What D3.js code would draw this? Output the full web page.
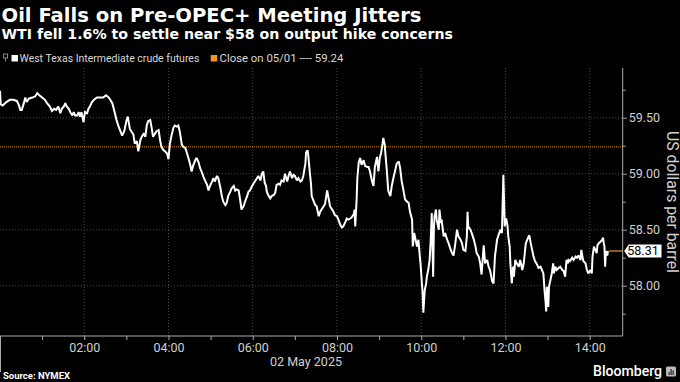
<!DOCTYPE html>
<html>
<head>
<meta charset="utf-8">
<script src="https://cdn.jsdelivr.net/npm/d3@7"></script>
<style>
html,body{margin:0;padding:0;background:#000;}
svg{display:block;}
</style>
</head>
<body>
<svg id="chart" width="680" height="382"></svg>
<script>
// ---- Data (minutes after 00:00 on 02 May 2025, WTI price) ----
const minutes = [0,1,4,9,14,19,24,27,29,31,34,36,38,41,46,50,53,56,60,64,67,71,74,77,80,83,86,88,91,93,95,98,100,103,105,107,110,112,114,116,119,121,124,126,128,131,134,138,143,147,151,155,157,160,162,164,166,169,171,174,177,180,182,185,190,192,195,197,200,202,205,207,209,211,214,216,218,221,223,226,228,230,233,235,238,240,242,245,247,249,252,254,256,259,261,264,266,268,271,273,275,278,280,283,285,287,290,292,295,297,299,302,304,306,309,311,314,316,318,321,323,325,328,330,333,335,337,340,342,344,347,349,352,354,356,359,361,363,366,368,371,373,375,377,379,380,382,385,387,390,392,394,397,399,401,404,406,409,411,413,416,418,420,423,425,428,430,432,435,436,438,439,441,443,444,447,449,451,454,456,458,461,463,466,469,470,473,475,477,480,482,485,487,489,492,494,496,499,501,504,505,506,508,509,511,513,515,518,520,523,525,527,530,532,534,537,539,541,543,545,546,548,549,551,553,556,558,561,563,565,568,570,572,575,577,580,582,584,587,588,590,592,594,596,598,599,600,601,602,603,605,607,608,610,612,614,615,617,618,619,621,622,625,626,628,629,632,634,637,639,641,644,646,648,651,653,656,658,660,663,665,666,667,670,672,675,677,679,682,684,686,689,691,694,696,698,701,703,705,708,710,713,715,717,719,720,721,723,724,726,727,729,731,732,734,736,739,741,744,746,747,749,751,753,754,756,758,760,762,765,767,770,772,774,776,777,778,779,781,782,784,786,788,789,791,793,796,798,801,803,805,807,809,810,812,815,817,820,822,824,827,828,830,831,834,836,838,841,843,844,846,848,850,851,853,855,858,859,860,861,862,863,865,866];
const prices = [59.74,59.62,59.61,59.64,59.66,59.66,59.65,59.61,59.57,59.57,59.63,59.68,59.64,59.67,59.68,59.69,59.72,59.70,59.68,59.66,59.63,59.60,59.56,59.58,59.57,59.60,59.54,59.58,59.60,59.63,59.60,59.58,59.55,59.52,59.55,59.52,59.52,59.55,59.51,59.55,59.46,59.55,59.54,59.58,59.60,59.64,59.66,59.68,59.68,59.68,59.70,59.68,59.66,59.63,59.58,59.53,59.48,59.42,59.39,59.34,59.38,59.47,59.51,59.40,59.35,59.27,59.29,59.20,59.30,59.33,59.36,59.33,59.43,59.47,59.48,59.41,59.33,59.36,59.38,59.39,59.30,59.24,59.21,59.20,59.18,59.13,59.27,59.36,59.41,59.43,59.42,59.43,59.38,59.26,59.24,59.23,59.19,59.15,59.08,59.02,59.07,59.12,59.14,59.10,59.05,59.02,58.97,58.94,58.90,58.85,58.89,58.93,58.96,58.93,58.98,58.96,58.87,58.80,58.75,58.72,58.74,58.80,58.84,58.87,58.89,58.85,58.86,58.85,58.77,58.68,58.71,58.75,58.80,58.84,58.85,58.89,58.91,58.93,58.96,58.98,58.94,59.00,59.02,58.92,58.89,58.84,58.81,58.78,58.80,58.81,58.83,58.90,58.91,58.90,58.94,58.93,59.00,58.93,58.98,59.02,58.96,58.99,58.98,58.94,58.96,58.93,58.94,58.98,59.09,59.19,59.21,59.17,59.03,58.91,58.80,58.75,58.72,58.71,58.62,58.66,58.68,58.71,58.73,58.85,58.75,58.71,58.68,58.66,58.63,58.62,58.59,58.54,58.52,58.53,58.57,58.60,58.59,58.60,58.61,58.64,58.68,58.53,58.77,58.96,59.10,59.14,59.08,59.12,59.07,59.06,59.06,59.02,58.93,58.89,59.06,59.15,59.02,59.14,59.19,59.27,59.32,59.26,59.18,59.03,58.85,58.80,58.89,58.98,59.03,59.09,59.11,59.05,58.94,58.84,58.77,58.75,58.74,58.66,58.59,58.35,58.47,58.41,58.35,58.41,58.26,58.20,58.11,58.02,57.93,57.76,57.96,58.02,58.08,58.14,58.23,58.47,58.65,58.08,58.50,58.62,58.68,58.59,58.50,58.68,58.56,58.59,58.44,58.47,58.41,58.38,58.34,58.29,58.27,58.35,58.50,58.44,58.41,58.38,58.32,58.31,58.44,58.66,58.53,58.50,58.47,58.41,58.36,58.29,58.26,58.20,58.10,58.36,58.20,58.23,58.17,58.14,58.04,58.02,58.26,58.41,58.45,58.50,58.47,58.99,58.53,58.59,58.60,58.53,58.44,58.35,58.20,58.02,58.17,58.08,58.23,58.20,58.17,58.23,58.14,58.20,58.26,58.38,58.41,58.44,58.45,58.38,58.32,58.26,58.22,58.19,58.16,58.17,58.14,58.11,57.93,57.87,57.77,57.99,57.81,57.99,58.05,58.11,58.20,58.11,58.17,58.14,58.16,58.17,58.14,58.13,58.08,58.23,58.20,58.23,58.22,58.25,58.23,58.26,58.25,58.27,58.23,58.32,58.25,58.22,58.20,58.14,58.11,58.14,58.11,58.26,58.35,58.32,58.29,58.36,58.38,58.39,58.41,58.43,58.38,58.35,58.17,58.31,58.27,58.31];
const previousClose = 59.24;
const lastPrice = 58.31;
const yTickValues = [58.00, 58.50, 59.00, 59.50];
const yMinorTickValues = [57.75, 58.25, 58.75, 59.25, 59.75];
const xLabelHours = [2, 4, 6, 8, 10, 12, 14];
const xTickHours = [0,1,2,3,4,5,6,7,8,9,10,11,12,13,14];
const dateLabel = "02 May 2025";
const titleText = "Oil Falls on Pre-OPEC+ Meeting Jitters";
const subtitleText = "WTI fell 1.6% to settle near $58 on output hike concerns";
const legendLabels = ["West Texas Intermediate crude futures", "Close on 05/01 ---- 59.24"];
const yAxisTitle = "US dollars per barrel";
const sourceText = "Source: NYMEX";

// ---- Setup ----
const svg = d3.select("#chart");
const W = 680, H = 382;
const plot = {left: 0, right: 622.7, top: 68, bottom: 336};
const day = new Date(2025, 4, 2, 0, 0);
const t = m => d3.timeMinute.offset(day, m);

const x = d3.scaleTime()
  .domain([t(0), t(887.4)])
  .range([plot.left, plot.right]);
const y = d3.scaleLinear()
  .domain([57.551, 59.944])
  .range([plot.bottom, plot.top]);

const data = minutes.map((m, i) => ({date: t(m), value: prices[i]}));

svg.append("rect").attr("width", W).attr("height", H).attr("fill", "#000");

function fitText(sel, target) {
  const w = sel.node().getComputedTextLength();
  const fs = parseFloat(sel.attr("font-size"));
  sel.attr("font-size", (fs * target / w).toFixed(2));
}

const boldFont = "'DejaVu Sans', Verdana, sans-serif";
const bodyFont = "Roboto, 'Noto Sans', sans-serif";

// ---- Titles ----
const title = svg.append("text").attr("x", 1.5).attr("y", 22)
  .attr("font-family", boldFont)
  .attr("font-weight", 700).attr("font-size", 18).attr("fill", "#fff")
  .text(titleText);
fitText(title, 420);
const sub = svg.append("text").attr("x", 1.5).attr("y", 38.5)
  .attr("font-family", boldFont)
  .attr("font-weight", 700).attr("font-size", 14).attr("fill", "#fff")
  .text(subtitleText);
fitText(sub, 452);

// ---- Legend ----
const lg = svg.append("g");
lg.append("rect").attr("x", 3.5).attr("y", 54).attr("width", 4).attr("height", 4)
  .attr("fill", "none").attr("stroke", "#888").attr("stroke-width", 1);
lg.append("line").attr("x1", 5.5).attr("x2", 5.5).attr("y1", 58).attr("y2", 61.5)
  .attr("stroke", "#888").attr("stroke-width", 1);
lg.append("rect").attr("x", 11.5).attr("y", 55).attr("width", 6.5).attr("height", 6.5).attr("fill", "#fff");
const l1 = lg.append("text").attr("x", 19.5).attr("y", 61.5)
  .attr("font-family", bodyFont).attr("font-size", 10.5)
  .attr("fill", "#d8d8d8").text(legendLabels[0]);
fitText(l1, 180);
lg.append("rect").attr("x", 210.7).attr("y", 55).attr("width", 6.5).attr("height", 6.5).attr("fill", "#f0961e");
const l2 = lg.append("text").attr("x", 219.5).attr("y", 61.5)
  .attr("font-family", bodyFont).attr("font-size", 10.5)
  .attr("fill", "#d8d8d8").text(legendLabels[1]);
fitText(l2, 124);

// ---- Gridlines ----
const grid = svg.append("g");
grid.selectAll("line.h").data(yTickValues).join("line")
  .attr("x1", plot.left).attr("x2", plot.right)
  .attr("y1", d => y(d)).attr("y2", d => y(d))
  .attr("stroke", "#4a4a4a").attr("stroke-width", 1).attr("stroke-dasharray", "1,2");
grid.selectAll("line.v").data(xLabelHours).join("line")
  .attr("x1", d => x(t(d * 60))).attr("x2", d => x(t(d * 60)))
  .attr("y1", plot.top).attr("y2", plot.bottom)
  .attr("stroke", "#4a4a4a").attr("stroke-width", 1).attr("stroke-dasharray", "1,2");

// ---- Previous close line ----
svg.append("line")
  .attr("x1", plot.left).attr("x2", plot.right)
  .attr("y1", y(previousClose)).attr("y2", y(previousClose))
  .attr("stroke", "#d88a22").attr("stroke-width", 1).attr("stroke-dasharray", "1,1");

// ---- Price line ----
const line = d3.line().x(d => x(d.date)).y(d => y(d.value));
svg.append("path").datum(data)
  .attr("d", line).attr("fill", "none")
  .attr("stroke", "#fff").attr("stroke-width", 2).attr("stroke-linejoin", "miter").attr("stroke-miterlimit", 2);

// last value connector
const last = data[data.length - 1];
svg.append("line")
  .attr("x1", x(last.date) + 1).attr("x2", plot.right)
  .attr("y1", y(lastPrice)).attr("y2", y(lastPrice))
  .attr("stroke", "#8a5a22").attr("stroke-width", 2);

// ---- Y axis (right) ----
const yAxis = svg.append("g").attr("transform", `translate(${plot.right},0)`)
  .call(d3.axisRight(y).tickValues(yTickValues).tickFormat(d3.format(".2f")).tickSize(4).tickPadding(2))
  .call(g => g.select(".domain").remove());
yAxis.selectAll(".tick line").attr("stroke", "#aaa");
yAxis.selectAll(".tick text").attr("fill", "#d0d0d0")
  .attr("font-family", bodyFont).attr("font-size", 12.5);
svg.append("g").attr("transform", `translate(${plot.right},0)`)
  .call(d3.axisRight(y).tickValues(yMinorTickValues).tickFormat("").tickSize(3))
  .call(g => g.select(".domain").remove())
  .selectAll(".tick line").attr("stroke", "#aaa");
svg.append("line").attr("x1", plot.right).attr("x2", plot.right)
  .attr("y1", plot.top).attr("y2", plot.bottom).attr("stroke", "#aaa").attr("stroke-width", 1);

// ---- X axis (bottom) ----
const xAxis = svg.append("g").attr("transform", `translate(0,${plot.bottom})`)
  .call(d3.axisBottom(x).tickValues(xTickHours.map(h => t(h * 60)))
    .tickFormat(d => xLabelHours.includes(d.getHours()) ? d3.timeFormat("%H:%M")(d) : "")
    .tickSize(4).tickPadding(3))
  .call(g => g.select(".domain").remove());
xAxis.selectAll(".tick line").attr("stroke", "#aaa");
xAxis.selectAll(".tick text").attr("fill", "#d0d0d0")
  .attr("font-family", bodyFont).attr("font-size", 12.5);
svg.append("line").attr("x1", plot.left).attr("x2", plot.right)
  .attr("y1", plot.bottom).attr("y2", plot.bottom).attr("stroke", "#aaa").attr("stroke-width", 1);
svg.append("line").attr("x1", x(t(0)) + 0.5).attr("x2", x(t(0)) + 0.5)
  .attr("y1", plot.bottom).attr("y2", 372).attr("stroke", "#aaa").attr("stroke-width", 1);
svg.append("text").attr("x", 306).attr("y", 366).attr("text-anchor", "middle")
  .attr("font-family", bodyFont).attr("font-size", 12.5)
  .attr("fill", "#d0d0d0").text(dateLabel);

// ---- Last price label ----
const ly = y(lastPrice);
svg.append("path")
  .attr("d", `M${plot.right + 1.5},${ly} L${plot.right + 6},${ly - 6.5} L661.5,${ly - 6.5} L661.5,${ly + 6.5} L${plot.right + 6},${ly + 6.5} Z`)
  .attr("fill", "#fff");
svg.append("text").attr("x", 643).attr("y", ly + 4.5).attr("text-anchor", "middle")
  .attr("font-family", bodyFont).attr("font-size", 12.5)
  .attr("fill", "#000").text(d3.format(".2f")(lastPrice));

// ---- Y axis title ----
const yt = svg.append("text")
  .attr("transform", `translate(666.5,202) rotate(90)`)
  .attr("text-anchor", "middle")
  .attr("font-family", bodyFont).attr("font-size", 14)
  .attr("fill", "#d0d0d0").text(yAxisTitle);
fitText(yt, 142);

// ---- Footer ----
const src = svg.append("text").attr("x", 3).attr("y", 379)
  .attr("font-family", bodyFont).attr("font-weight", 700)
  .attr("font-size", 11).attr("fill", "#fff").text(sourceText);
fitText(src, 67);
const bb = svg.append("text").attr("x", 662).attr("y", 376).attr("text-anchor", "end")
  .attr("font-family", bodyFont).attr("font-weight", 500)
  .attr("font-size", 14).attr("fill", "#fff").text("Bloomberg");
fitText(bb, 69);
svg.append("rect").attr("x", 666).attr("y", 366.5).attr("width", 10).attr("height", 10).attr("rx", 1.5).attr("fill", "#bbb");
[[668.5, 3], [670.5, 6], [672.5, 4.5]].forEach(([bx, bh]) =>
  svg.append("rect").attr("x", bx).attr("y", 375 - bh).attr("width", 1.3).attr("height", bh).attr("fill", "#333"));
</script>
</body>
</html>
